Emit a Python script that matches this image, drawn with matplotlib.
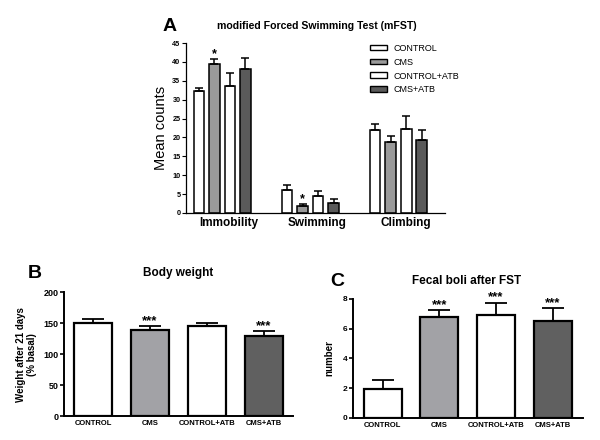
import numpy as np
import matplotlib
matplotlib.use("Agg")
import matplotlib.pyplot as plt
from matplotlib.patches import Patch

plt.rcParams["font.family"] = ["Liberation Sans", "DejaVu Sans"]

groups = ["CONTROL", "CMS", "CONTROL+ATB", "CMS+ATB"]
colors_a = ["white", "#9a9a9a", "white", "#5a5a5a"]
colors_bc = ["white", "#a2a2a6", "white", "#606060"]

# panel A
behaviours = ["Immobility", "Swimming", "Climbing"]
fst_mean = {
    "CONTROL": [32.2, 6.1, 21.9],
    "CMS": [39.4, 1.9, 18.9],
    "CONTROL+ATB": [33.6, 4.4, 22.2],
    "CMS+ATB": [38.2, 2.6, 19.3],
}
fst_sem = {
    "CONTROL": [0.8, 1.4, 1.7],
    "CMS": [1.4, 0.4, 1.5],
    "CONTROL+ATB": [3.6, 1.3, 3.6],
    "CMS+ATB": [2.9, 1.0, 2.8],
}

# panel B
weight_mean = [150, 139, 145, 129]
weight_sem = [7, 6, 6, 8]
weight_stars = ["", "***", "", "***"]

# panel C
boli_mean = [1.9, 6.8, 6.95, 6.5]
boli_sem = [0.63, 0.45, 0.8, 0.9]
boli_stars = ["", "***", "***", "***"]

fig = plt.figure(figsize=(6, 4.4), dpi=100)


def style(ax, lw):
    for s in ["top", "right"]:
        ax.spines[s].set_visible(False)
    for s in ["left", "bottom"]:
        ax.spines[s].set_linewidth(lw)


def star(ax, x, y, s, size):
    ax.annotate(s, xy=(x, y), xytext=(0, 1.5), textcoords="offset points",
                ha="center", va="baseline", fontsize=size, fontweight="bold")


# ---- A ----
ax = fig.add_axes([0.31, 0.516, 0.432, 0.386])
x = np.arange(len(behaviours))
w = 0.12
step = 0.176
for i, g in enumerate(groups):
    pos = x + (i - 1.5) * step
    ax.bar(pos, fst_mean[g], width=w, color=colors_a[i], edgecolor="black",
           linewidth=1.1, yerr=[np.zeros(3), fst_sem[g]], capsize=3,
           error_kw=dict(elinewidth=1.1, capthick=1.1), zorder=2)
ax.set_xlim(-0.41, 2.53)
ax.set_ylim(0, 45)
ax.set_yticks(range(0, 46, 5))
ax.set_xticks(x + 0.08)
ax.set_xticklabels(behaviours, fontsize=8.5, fontweight="bold")
ax.tick_params(axis="x", length=0, pad=3)
ax.tick_params(axis="y", labelsize=5.2, length=3, width=0.8, pad=1)
for lab in ax.get_yticklabels():
    lab.set_fontweight("bold")
ax.set_ylabel("Mean counts", fontsize=10.5, labelpad=3)
style(ax, 0.9)
for b in [0, 1]:
    pos = x[b] + (1 - 1.5) * step
    star(ax, pos, fst_mean["CMS"][b] + fst_sem["CMS"][b], "*", 9)
handles = [Patch(facecolor=colors_a[i], edgecolor="black", linewidth=1.0,
                 label=g) for i, g in enumerate(groups)]
ax.legend(handles=handles, loc="upper left", bbox_to_anchor=(0.68, 1.045),
          frameon=False, fontsize=6.5, handlelength=1.8, handleheight=0.6,
          labelspacing=0.55, handletextpad=0.8)
fig.text(0.282, 0.94, "A", fontsize=14, fontweight="bold", ha="center",
         va="center")
fig.text(0.528, 0.94, "modified Forced Swimming Test (mFST)", fontsize=7.6,
         fontweight="bold", ha="center", va="center")

# ---- B ----
ax = fig.add_axes([0.107, 0.0545, 0.381, 0.2815])
xb = np.arange(len(groups))
ax.bar(xb, weight_mean, width=0.67, color=colors_bc, edgecolor="black",
       linewidth=1.6, yerr=[np.zeros(4), weight_sem], capsize=8,
       error_kw=dict(elinewidth=1.3, capthick=1.3), zorder=2)
ax.set_xlim(-0.51, 3.51)
ax.set_ylim(0, 200)
ax.set_yticks([0, 50, 100, 150, 200])
ax.set_xticks(xb)
ax.set_xticklabels(groups, fontsize=5.5, fontweight="bold")
ax.tick_params(axis="x", length=0, pad=3)
ax.tick_params(axis="y", labelsize=6.5, length=3, width=1.2, pad=1)
for lab in ax.get_yticklabels():
    lab.set_fontweight("bold")
ax.set_ylabel("Weight after 21 days\n(% basal)", fontsize=7, fontweight="bold",
              labelpad=5, linespacing=1.1)
style(ax, 1.4)
for i, s in enumerate(weight_stars):
    if s:
        star(ax, xb[i], weight_mean[i] + weight_sem[i], s, 9.5)
fig.text(0.058, 0.379, "B", fontsize=14, fontweight="bold", ha="center",
         va="center")
fig.text(0.297, 0.379, "Body weight", fontsize=8.5, fontweight="bold",
         ha="center", va="center")

# ---- C ----
ax = fig.add_axes([0.588, 0.0507, 0.384, 0.2698])
ax.bar(xb, boli_mean, width=0.67, color=colors_bc, edgecolor="black",
       linewidth=1.6, yerr=[np.zeros(4), boli_sem], capsize=8,
       error_kw=dict(elinewidth=1.3, capthick=1.3), zorder=2)
ax.set_xlim(-0.53, 3.54)
ax.set_ylim(0, 8)
ax.set_yticks([0, 2, 4, 6, 8])
ax.set_xticks(xb)
ax.set_xticklabels(groups, fontsize=5.5, fontweight="bold")
ax.tick_params(axis="x", length=0, pad=3)
ax.tick_params(axis="y", labelsize=6, length=3, width=1.2, pad=1)
for lab in ax.get_yticklabels():
    lab.set_fontweight("bold")
ax.set_ylabel("number", fontsize=7, fontweight="bold", labelpad=6)
style(ax, 1.4)
for i, s in enumerate(boli_stars):
    if s:
        star(ax, xb[i], boli_mean[i] + boli_sem[i], s, 9.5)
fig.text(0.562, 0.361, "C", fontsize=14, fontweight="bold", ha="center",
         va="center")
fig.text(0.778, 0.361, "Fecal boli after FST", fontsize=8.5, fontweight="bold",
         ha="center", va="center")

fig.savefig("out.png", dpi=100)
